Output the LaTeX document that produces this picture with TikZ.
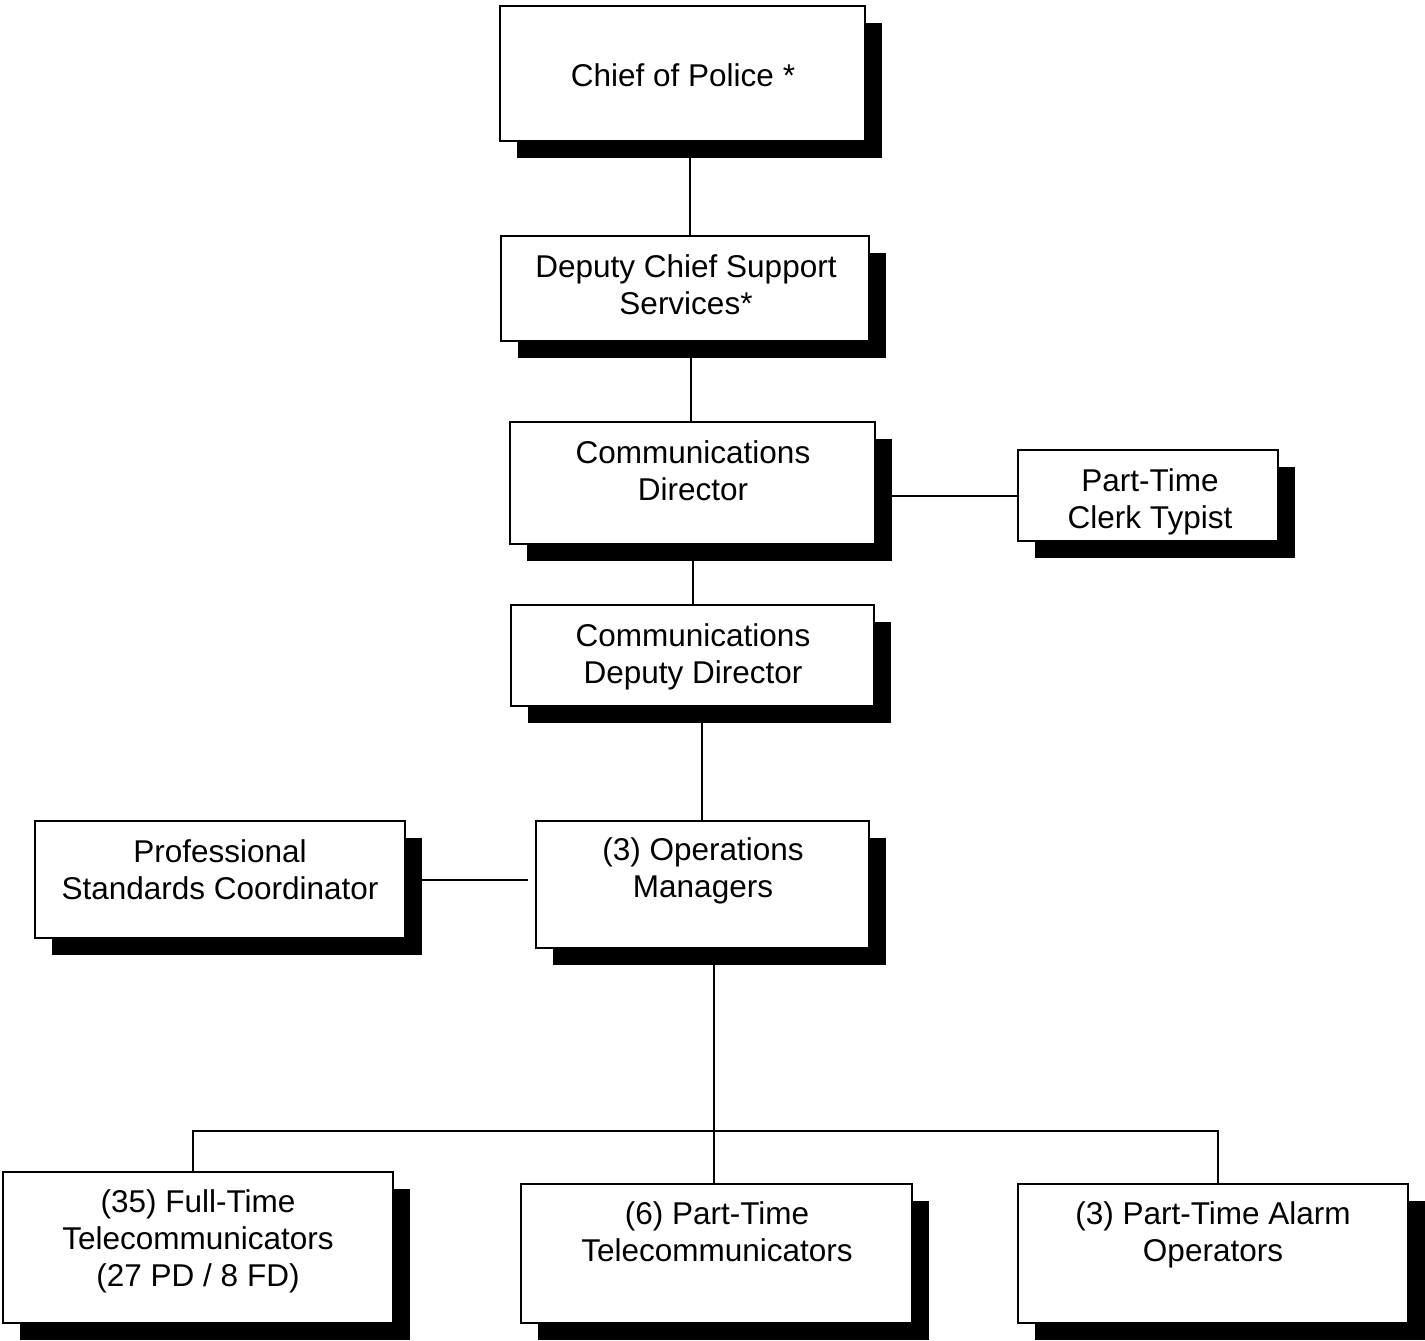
\documentclass[tikz,border=0pt]{standalone}
\usepackage{fontspec}
\setmainfont{Liberation Sans}
\usetikzlibrary{shadows,backgrounds,calc}
\begin{document}
\begin{tikzpicture}[x=1pt,y=-1pt,
  orgbox/.style={draw=black,line width=1.6pt,fill=white,inner sep=0pt,outer sep=0pt,
    drop shadow={shadow xshift=17pt,shadow yshift=-17pt,fill=black,opacity=1}},
  lbl/.style={align=center,inner sep=0pt,font=\fontsize{31.5}{37}\selectfont},
  conn/.style={line width=2pt}]
\useasboundingbox (0,0) rectangle (1425,1341);
\newcommand\orgbx[5]{\node[orgbox,minimum width={#4-#2},minimum height={#5-#3}] (#1) at ({(#2+#4)/2},{(#3+#5)/2}) {};}
\orgbx{chief}{500}{6}{865}{141}
\orgbx{deputy}{501}{236}{869}{341}
\orgbx{cdir}{510}{422}{875}{544}
\orgbx{clerk}{1018}{450}{1278}{541}
\orgbx{ddir}{511}{605}{874}{706}
\orgbx{prof}{35}{821}{405}{938}
\orgbx{ops}{536}{821}{869}{948}
\orgbx{ft}{3}{1172}{393}{1323}
\orgbx{pt}{521}{1184}{912}{1323}
\orgbx{alarm}{1018}{1184}{1408}{1323}
\node[lbl] (chiefT) at (683,75) {Chief of Police *};
\node[lbl] (deputyT) at (686,285) {Deputy Chief Support\\Services*};
\node[lbl] (cdirT) at (693,471) {Communications\\Director};
\node[lbl] (clerkT) at (1150,502) {Part-Time\\Clerk Typist};
\node[lbl] (ddirT) at (693,657) {Communications\\Deputy Director};
\node[lbl] (profT) at (220,870) {Professional\\Standards Coordinator};
\node[lbl] (opsT) at (703,871) {(3) Operations\\Managers};
\node[lbl] (ftT) at (198,1241) {(35) Full-Time\\Telecommunicators\\(27 PD / 8 FD)};
\node[lbl] (ptT) at (717,1232) {(6) Part-Time\\Telecommunicators};
\node[lbl] (alarmT) at (1213,1235) {(3) Part-Time Alarm\\Operators};
\begin{pgfonlayer}{background}
\fill[white] (0,0) rectangle (1425,1341);
\draw[conn] ($(chief.south)+(7.5,0)$) -- ($(deputy.north)+(5,0)$);
\draw[conn] ($(deputy.south)+(6,0)$) -- ($(cdir.north)+(-1.5,0)$);
\draw[conn] ($(cdir.south)+(0.5,0)$) -- ($(ddir.north)+(0.5,0)$);
\draw[conn] (clerk.west) -- (clerk.west -| cdir.east);
\draw[conn] ($(ddir.south)+(9.5,0)$) -- ($(ops.north)+(-0.5,0)$);
\draw[conn] ($(prof.east)+(0,0.5)$) -- ($(ops.west |- prof.east)+(-8,0.5)$);
\coordinate (bus) at (714,1131);
\draw[conn] ($(ops.south)+(11.5,0)$) -- ($(pt.north)+(-2.5,0)$);
\draw[conn] ($(ft.north)+(-5,0)$) |- (bus) -| ($(alarm.north)+(5,0)$);
\end{pgfonlayer}
\end{tikzpicture}
\end{document}
